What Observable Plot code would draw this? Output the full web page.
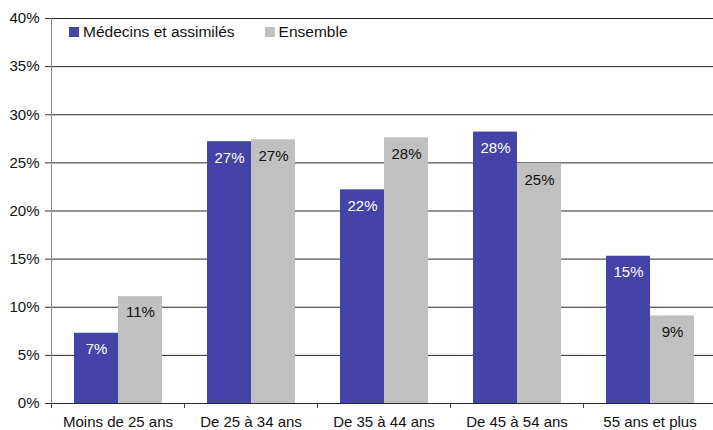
<!DOCTYPE html>
<html><head><meta charset="utf-8">
<script src="https://cdn.jsdelivr.net/npm/d3@7"></script>
<script src="https://cdn.jsdelivr.net/npm/@observablehq/plot@0.6"></script>
<style>
body{margin:0;overflow:hidden;background:#fff;font-family:"Liberation Sans",Arial,Helvetica,sans-serif;}
#wrap{position:relative;width:713px;height:430px;overflow:hidden}
#legend{position:absolute;left:69px;top:23px;font-size:15.5px;color:#111;display:flex;align-items:center;white-space:nowrap}
#legend .item{display:inline-flex;align-items:center;margin-right:30px}
#legend .sw{display:inline-block;width:10px;height:10px;margin-right:4px}
</style></head><body><div id="wrap"><div id="chart"></div><div id="legend"></div></div>
<script>
const categories = ["Moins de 25 ans","De 25 à 34 ans","De 35 à 44 ans","De 45 à 54 ans","55 ans et plus"];
const seriesNames = ["Médecins et assimilés","Ensemble"];
const medecins = [7.3, 27.2, 22.2, 28.2, 15.3];
const ensemble = [11.1, 27.4, 27.6, 24.9, 9.1];
const yTicks = [0, 5, 10, 15, 20, 25, 30, 35, 40];
const colors = ["#4444a8", "#c0c0c0"];
const labelColors = ["#ffffff", "#111111"];

const rows = [];
categories.forEach((c, i) => {
  rows.push({cat: c, series: seriesNames[0], value: medecins[i]});
  rows.push({cat: c, series: seriesNames[1], value: ensemble[i]});
});

const chart = Plot.plot({
  width: 713,
  height: 440,
  marginLeft: 51,
  marginRight: -3,
  marginTop: 18,
  marginBottom: 37,
  style: {fontFamily: '"Liberation Sans", Arial, sans-serif', fontSize: "15px", color: "#111", background: "#fff"},
  fx: {domain: categories, padding: 0, label: null, axis: null},
  x: {domain: seriesNames, paddingInner: 0, paddingOuter: 0.5, axis: null},
  y: {domain: [0, 40], label: null, axis: null},
  color: {domain: seriesNames, range: colors},
  marks: [
    Plot.gridY(yTicks, {stroke: "#2a2a2a", strokeOpacity: 1}),
    Plot.barY(rows, {fx: "cat", x: "series", y: "value", fill: "series", inset: 0}),
    Plot.text(rows, {fx: "cat", x: "series", y: "value", dy: 16,
      text: d => Math.round(d.value) + "%",
      fill: d => labelColors[seriesNames.indexOf(d.series)], fontSize: 15}),
    Plot.frame({anchor: "left", stroke: "#888", facetAnchor: "left"}),
    Plot.ruleY([0], {stroke: "#2a2a2a"}),
    Plot.axisY(yTicks, {tickFormat: d => d + "%", tickSize: 6, tickPadding: 6, fontSize: 15, label: null, stroke: "#333"}),
    Plot.axisFx({anchor: "bottom", tickSize: 0, tickPadding: 13, fontSize: 15, label: null}),
    Plot.axisFx({anchor: "bottom", tickSize: 5, tickFormat: () => "", dx: -66.5, label: null, stroke: "#444"})
  ]
});
document.getElementById("chart").appendChild(chart);

const lg = d3.select("#legend");
seriesNames.forEach((s, i) => {
  const it = lg.append("span").attr("class", "item");
  it.append("span").attr("class", "sw").style("background", colors[i]);
  it.append("span").text(s);
});
</script>
</body></html>
